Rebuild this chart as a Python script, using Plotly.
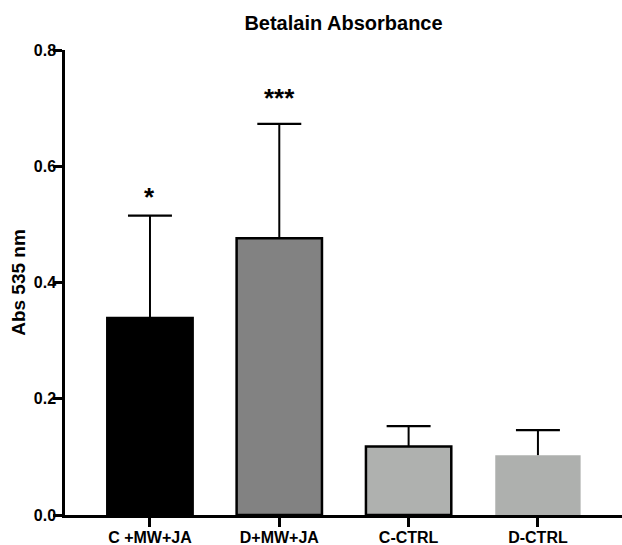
import plotly.graph_objects as go

# ---- data ----
categories = ["C +MW+JA", "D+MW+JA", "C-CTRL", "D-CTRL"]
means = [0.339, 0.476, 0.118, 0.103]
err_upper = [0.176, 0.197, 0.035, 0.043]
sig_labels = ["*", "***"]
sig_y = [0.558, 0.728]
y_ticks = [0.0, 0.2, 0.4, 0.6, 0.8]
y_tick_labels = ["0.0", "0.2", "0.4", "0.6", "0.8"]

# ---- styles ----
fill_colors = ["#000000", "#828282", "#AFB1AF", "#AEB0AE"]
outline_widths = [2.5, 2.5, 2.5, 0]
FONT = "Liberation Sans, Arial, Helvetica, sans-serif"
cap_half = 0.17

pos = list(range(len(categories)))

fig = go.Figure()
fig.add_trace(go.Bar(
    x=pos, y=means, width=0.66,
    marker=dict(color=fill_colors, line=dict(color="black", width=outline_widths)),
    showlegend=False, hoverinfo="skip",
))

# one-sided (upper) error bars built from the data arrays
stem_x, stem_y, cap_x, cap_y = [], [], [], []
for p, m, e in zip(pos, means, err_upper):
    stem_x += [p, p, None]
    stem_y += [m, m + e, None]
    cap_x += [p - cap_half, p + cap_half, None]
    cap_y += [m + e, m + e, None]
fig.add_trace(go.Scatter(x=stem_x, y=stem_y, mode="lines",
                         line=dict(color="black", width=2),
                         showlegend=False, hoverinfo="skip"))
fig.add_trace(go.Scatter(x=cap_x, y=cap_y, mode="lines",
                         line=dict(color="black", width=2.2),
                         showlegend=False, hoverinfo="skip"))

for p, lab, yv in zip(pos, sig_labels, sig_y):
    fig.add_annotation(x=p, y=yv, text=lab, showarrow=False,
                       xref="x", yref="y", yanchor="middle", yshift=-6,
                       font=dict(family=FONT, size=26, color="black", weight="bold"))

fig.update_layout(
    width=622, height=545,
    margin=dict(l=65, r=0, t=50, b=30),
    paper_bgcolor="white", plot_bgcolor="white",
    title=dict(text="Betalain Absorbance", x=0.5, xref="paper",
               y=1 - 23 / 545, yref="container", yanchor="middle", xanchor="center",
               font=dict(family=FONT, size=20, color="black", weight="bold")),
    font=dict(family=FONT, color="black"),
)
fig.update_xaxes(
    range=[-0.657, 3.65], tickvals=pos, ticktext=categories,
    showline=True, linecolor="black", linewidth=2.5,
    ticks="outside", ticklen=9, tickwidth=2.5, tickcolor="black",
    showgrid=False, zeroline=False, automargin=False, ticklabelstandoff=-3,
    tickfont=dict(family=FONT, size=16, color="black", weight="bold"),
)
fig.update_yaxes(
    range=[0, 0.8], tickvals=y_ticks, ticktext=y_tick_labels,
    showline=True, linecolor="black", linewidth=2.5,
    ticks="outside", ticklen=9, tickwidth=2.5, tickcolor="black",
    showgrid=False, zeroline=False, automargin=False, ticklabelstandoff=-6,
    tickfont=dict(family=FONT, size=16, color="black", weight="bold"),
    title=dict(text="Abs 535 nm", standoff=4,
               font=dict(family=FONT, size=19, color="black", weight="bold")),
)

fig.write_html("out.html", config={"displayModeBar": False},
               post_script="document.body.style.margin='0';document.body.style.overflow='hidden';")
